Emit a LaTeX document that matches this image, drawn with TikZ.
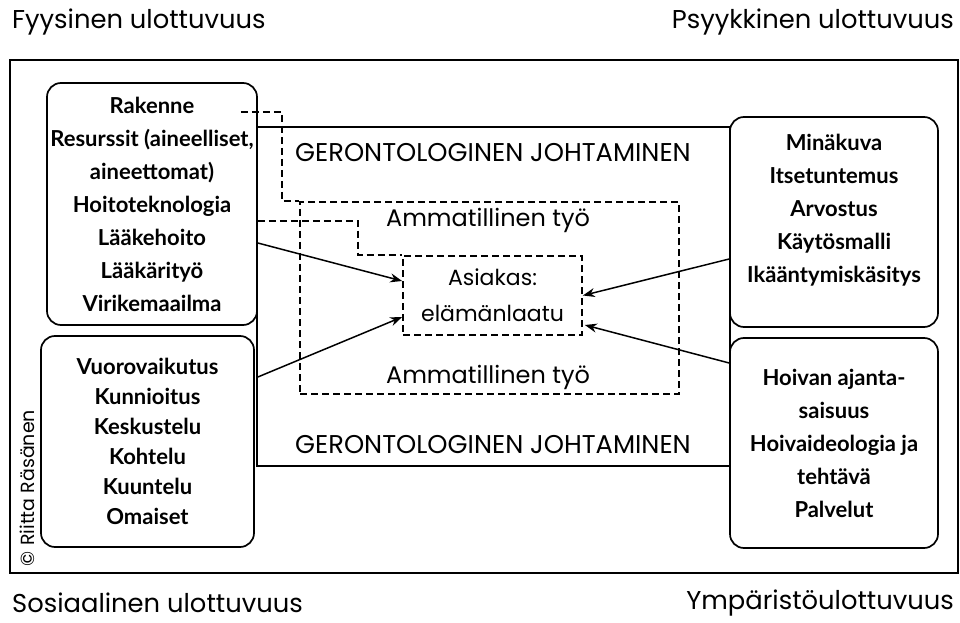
\documentclass[tikz,border=0pt]{standalone}
\usepackage{fontspec}
\setmainfont{Poppins}
\newfontfamily\boxfont{Lato}
\usepackage{tikz}
\usetikzlibrary{arrows.meta,positioning,calc}

\begin{document}
\begin{tikzpicture}[x=1pt,y=1pt,line width=1.7pt,
  dimbox/.style={draw,rounded corners=14pt,align=center,inner sep=0pt,
    font=\boxfont\bfseries\fontsize{22}{33}\selectfont},
  dashbox/.style={draw,dash pattern=on 7pt off 4pt,inner sep=0pt},
  dimlabel/.style={font=\fontsize{25.8}{30}\selectfont},
  lvltext/.style={font=\fontsize{24}{28}\selectfont},
  arr/.style={-{Stealth[length=12pt,width=9pt]},line width=1.5pt},
  dashline/.style={dash pattern=on 7pt off 4pt,line width=1.6pt}]
\useasboundingbox (0,0) rectangle (960,622);
% outer frame and the four dimensions
\node[draw,minimum width=948,minimum height=513,inner sep=0pt] (frame) at (484,305.5) {};
\node[dimlabel,anchor=west] (fyysl) at (8,600) {Fyysinen ulottuvuus};
\node[dimlabel,anchor=east] (psyykl) at (958,600) {Psyykkinen ulottuvuus};
\node[dimlabel,anchor=west] (sosil) at (8,19) {Sosiaalinen ulottuvuus};
\node[dimlabel,anchor=east] (ympl) at (958,19) {Ympäristöulottuvuus};
\node[font=\fontsize{19}{22}\selectfont,rotate=90] (copy) at (27,134) {\textcopyright{} Riitta Räsänen};
% management frame
\node[draw,minimum width=473,minimum height=339,inner sep=0pt] (geron) at (493.5,325.5) {};
\node[lvltext,font=\fontsize{25.7}{30}\selectfont] (gerontop) at (493,469) {GERONTOLOGINEN JOHTAMINEN};
\node[lvltext,font=\fontsize{25.7}{30}\selectfont] (geronbot) at (493,177) {GERONTOLOGINEN JOHTAMINEN};
% professional work and the client
\node[dashbox,minimum width=379,minimum height=192] (ammat) at (489.5,324) {};
\node[lvltext] (ammattop) at (488,402) {Ammatillinen työ};
\node[lvltext] (ammatbot) at (488,245) {Ammatillinen työ};
\node[dashbox,minimum width=179,minimum height=79,align=center,
  font=\fontsize{22}{36}\selectfont] (asiakas) at (492.5,326.5) {Asiakas:\\elämänlaatu};
% dimension boxes
\node[dimbox,minimum width=210,minimum height=242] (fyys) at (152,418)
  {Rakenne\\Resurssit (aineelliset,\\aineettomat)\\Hoitoteknologia\\Lääkehoito\\Lääkärityö\\Virikemaailma};
\node[dimbox,minimum width=213,minimum height=211,
  font=\boxfont\bfseries\fontsize{22}{30}\selectfont] (sosi) at (147.5,180.5)
  {Vuorovaikutus\\Kunnioitus\\Keskustelu\\Kohtelu\\Kuuntelu\\Omaiset};
\node[dimbox,minimum width=208,minimum height=210] (psyyk) at (834,400)
  {Minäkuva\\Itsetuntemus\\Arvostus\\Käytösmalli\\Ikääntymiskäsitys\\[-6pt]\mbox{}};
\node[dimbox,minimum width=208,minimum height=210] (ymp) at (834,179)
  {Hoivan ajanta-\\saisuus\\Hoivaideologia ja\\tehtävä\\Palvelut};
% dashed links
\draw[dashline] ([shift={(-17,-30)}]fyys.north east) -| ($(ammat.north west)+(-17,0)$) -- (ammat.north west);
\draw[dashline] ([yshift=-17]fyys.east) -| ($(asiakas.north west)+(-44,0)$) -- (asiakas.north west);
% arrows to the client
\draw[arr] ([yshift=-39]fyys.east) -- ([yshift=14.5]asiakas.west);
\draw[arr] ([shift={(3,64.5)}]sosi.east) -- ([yshift=-21.5]asiakas.west);
\draw[arr] ([yshift=-37]psyyk.west) -- (asiakas.east);
\draw[arr] ([yshift=80]ymp.west) -- ([shift={(2,-29.5)}]asiakas.east);
\end{tikzpicture}
\end{document}
